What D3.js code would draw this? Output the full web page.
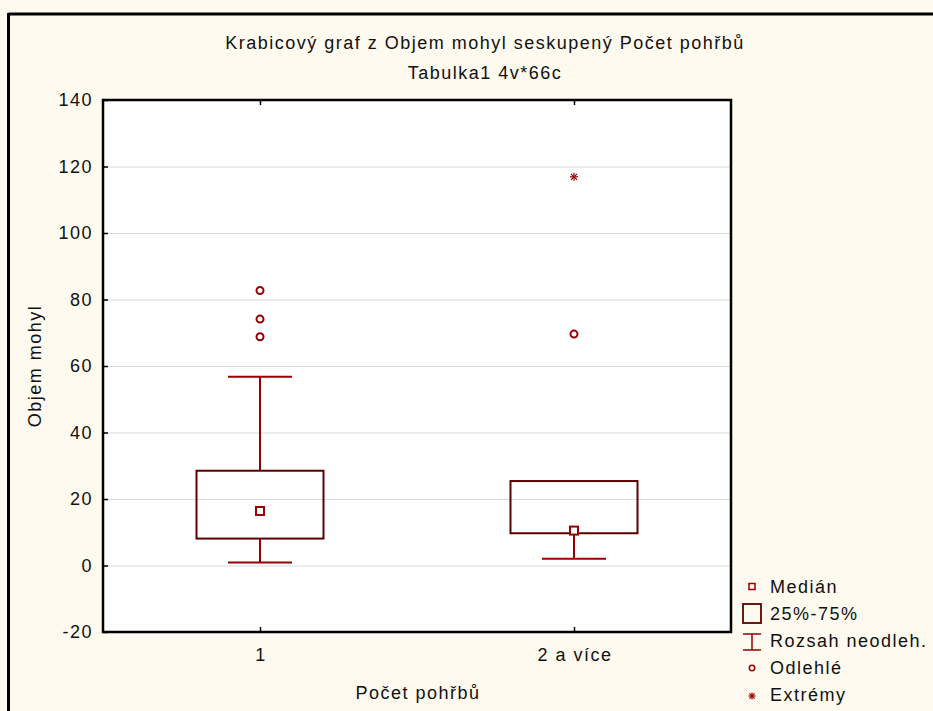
<!DOCTYPE html>
<html>
<head>
<meta charset="utf-8">
<script src="https://cdn.jsdelivr.net/npm/d3@7"></script>
<style>
  body { margin: 0; background: #fefaef; }
  svg { display: block; font-family: "Liberation Sans", Arial, sans-serif; }
  svg text { font-size: 18px; letter-spacing: 1.5px; fill: #111; }
</style>
</head>
<body>
<div id="chart"></div>
<script>
// chart values
var categories = ["1", "2 a více"];
var medians = [16.4, 10.5];
var q1 = [8.1, 9.7];
var q3 = [28.5, 25.4];
var whiskerLow = [0.9, 2.0];
var whiskerHigh = [56.8, 25.4];
var outliers = [[82.7, 74.1, 68.8], [69.6]];
var extremes = [[], [116.9]];
var yTicks = [-20, 0, 20, 40, 60, 80, 100, 120, 140];
var legendLabels = ["Medián", "25%-75%", "Rozsah neodleh.", "Odlehlé", "Extrémy"];

var width = 933,
  height = 711;

//plot rectangle
var plot = { left: 103, top: 100, right: 731, bottom: 632 };

var boxColor = "#5c0000";
var markColor = "#960000";

var svg = d3
  .select("#chart")
  .append("svg")
  .attr("width", width)
  .attr("height", height);

//cream background and the frame (top and left only)
svg.append("rect").attr("width", width).attr("height", height).attr("fill", "#fefaef");
svg.append("line").attr("x1", 8.5).attr("x2", width).attr("y1", 14).attr("y2", 14)
  .attr("stroke", "#000").attr("stroke-width", 3);
svg.append("line").attr("x1", 8.5).attr("x2", 8.5).attr("y1", 13).attr("y2", height)
  .attr("stroke", "#000").attr("stroke-width", 3);

var x = d3
  .scalePoint()
  .domain(categories)
  .range([plot.left, plot.right])
  .padding(0.5);

var y = d3
  .scaleLinear()
  .domain([-20, 140])
  .range([plot.bottom, plot.top]);

svg.append("rect")
  .attr("x", plot.left).attr("y", plot.top)
  .attr("width", plot.right - plot.left).attr("height", plot.bottom - plot.top)
  .attr("fill", "#fff");

//grid lines
svg.append("g")
  .selectAll("line")
  .data(yTicks.filter(function(t) { return t > -20 && t < 140; }))
  .enter()
  .append("line")
  .attr("x1", plot.left).attr("x2", plot.right)
  .attr("y1", function(d) { return y(d) + 0.5; })
  .attr("y2", function(d) { return y(d) + 0.5; })
  .attr("stroke", "#d9d9d9").attr("stroke-width", 1);

//axes
var yAxis = svg.append("g")
  .attr("transform", "translate(" + plot.left + ",0)")
  .call(d3.axisRight(y).tickValues(yTicks).tickSize(5).tickFormat(""));
yAxis.select(".domain").remove();

svg.append("g")
  .attr("transform", "translate(0," + plot.top + ")")
  .call(d3.axisBottom(x).tickSize(5).tickFormat(""))
  .select(".domain").remove();
svg.append("g")
  .attr("transform", "translate(0," + plot.bottom + ")")
  .call(d3.axisTop(x).tickSize(5).tickFormat(""))
  .select(".domain").remove();

svg.selectAll(".tick line").attr("stroke", "#000").attr("stroke-width", 1.5);

//y tick labels (trailing letter-spacing pushes them left, so anchor a bit right)
svg.append("g")
  .selectAll("text")
  .data(yTicks)
  .enter()
  .append("text")
  .attr("x", plot.left - 10)
  .attr("y", function(d) { return y(d); })
  .attr("dy", "0.35em")
  .attr("text-anchor", "end")
  .text(function(d) { return d; });

//category labels
svg.append("g")
  .selectAll("text")
  .data(categories)
  .enter()
  .append("text")
  .attr("x", function(d) { return x(d) + 1; })
  .attr("y", 661)
  .attr("text-anchor", "middle")
  .text(function(d) { return d; });

//plot frame
svg.append("rect")
  .attr("x", plot.left).attr("y", plot.top)
  .attr("width", plot.right - plot.left).attr("height", plot.bottom - plot.top)
  .attr("fill", "none").attr("stroke", "#000").attr("stroke-width", 2.5);

//titles
svg.append("text").attr("x", 485).attr("y", 49).attr("text-anchor", "middle")
  .text("Krabicový graf z Objem mohyl seskupený Počet pohřbů");
svg.append("text").attr("x", 485).attr("y", 79).attr("text-anchor", "middle")
  .text("Tabulka1 4v*66c");
svg.append("text").attr("x", 418).attr("y", 699).attr("text-anchor", "middle")
  .text("Počet pohřbů");
svg.append("text")
  .attr("transform", "translate(41," + y(60) + ") rotate(-90)")
  .attr("text-anchor", "middle")
  .text("Objem mohyl");

//boxes
var boxW = 127,
  capW = 64;
var g = svg.append("g");
categories.forEach(function(c, i) {
  var cx = x(c);
  //whiskers
  g.append("line").attr("x1", cx).attr("x2", cx)
    .attr("y1", y(q3[i])).attr("y2", y(whiskerHigh[i]))
    .attr("stroke", markColor).attr("stroke-width", 2);
  g.append("line").attr("x1", cx).attr("x2", cx)
    .attr("y1", y(q1[i])).attr("y2", y(whiskerLow[i]))
    .attr("stroke", markColor).attr("stroke-width", 2);
  if (whiskerHigh[i] > q3[i]) {
    g.append("line").attr("x1", cx - capW / 2).attr("x2", cx + capW / 2)
      .attr("y1", y(whiskerHigh[i])).attr("y2", y(whiskerHigh[i]))
      .attr("stroke", markColor).attr("stroke-width", 2);
  }
  g.append("line").attr("x1", cx - capW / 2).attr("x2", cx + capW / 2)
    .attr("y1", y(whiskerLow[i])).attr("y2", y(whiskerLow[i]))
    .attr("stroke", markColor).attr("stroke-width", 2);
  //box
  g.append("rect")
    .attr("x", cx - boxW / 2).attr("y", y(q3[i]))
    .attr("width", boxW).attr("height", y(q1[i]) - y(q3[i]))
    .attr("fill", "none").attr("stroke", boxColor).attr("stroke-width", 2);
  //median
  g.append("rect")
    .attr("x", cx - 4).attr("y", y(medians[i]) - 4)
    .attr("width", 8).attr("height", 8)
    .attr("fill", "#fff").attr("stroke", markColor).attr("stroke-width", 2);
  //outliers
  outliers[i].forEach(function(v) {
    g.append("circle").attr("cx", cx).attr("cy", y(v)).attr("r", 3.5)
      .attr("fill", "none").attr("stroke", markColor).attr("stroke-width", 2);
  });
  //extremes
  extremes[i].forEach(function(v) {
    drawStar(g, cx, y(v), 4);
  });
});

function drawStar(sel, cx, cy, r) {
  var s = sel.append("g").attr("stroke", markColor).attr("stroke-width", 1.2);
  s.append("line").attr("x1", cx - r).attr("x2", cx + r).attr("y1", cy).attr("y2", cy);
  s.append("line").attr("x1", cx).attr("x2", cx).attr("y1", cy - r).attr("y2", cy + r);
  var d = r * 0.75;
  s.append("line").attr("x1", cx - d).attr("x2", cx + d).attr("y1", cy - d).attr("y2", cy + d);
  s.append("line").attr("x1", cx - d).attr("x2", cx + d).attr("y1", cy + d).attr("y2", cy - d);
}

//legend
var legendY = [587, 614, 641, 668, 695];
var lg = svg.append("g");
legendLabels.forEach(function(t, i) {
  lg.append("text").attr("x", 770).attr("y", legendY[i]).attr("dy", "0.35em")
    .text(t);
});
var lx = 752;
lg.append("rect").attr("x", lx - 3).attr("y", legendY[0] - 3.5).attr("width", 6).attr("height", 6)
  .attr("fill", "none").attr("stroke", markColor).attr("stroke-width", 1.5);
lg.append("rect").attr("x", lx - 9).attr("y", legendY[1] - 10).attr("width", 18).attr("height", 19)
  .attr("fill", "none").attr("stroke", boxColor).attr("stroke-width", 1.8);
lg.append("line").attr("x1", lx - 9).attr("x2", lx + 9).attr("y1", legendY[2] - 7).attr("y2", legendY[2] - 7)
  .attr("stroke", markColor).attr("stroke-width", 1.5);
lg.append("line").attr("x1", lx - 9).attr("x2", lx + 9).attr("y1", legendY[2] + 9).attr("y2", legendY[2] + 9)
  .attr("stroke", markColor).attr("stroke-width", 1.5);
lg.append("line").attr("x1", lx).attr("x2", lx).attr("y1", legendY[2] - 7).attr("y2", legendY[2] + 9)
  .attr("stroke", markColor).attr("stroke-width", 1.5);
lg.append("circle").attr("cx", lx).attr("cy", legendY[3]).attr("r", 2.7)
  .attr("fill", "none").attr("stroke", markColor).attr("stroke-width", 1.5);
drawStar(lg, lx, legendY[4] + 1, 3.5);
</script>
</body>
</html>
